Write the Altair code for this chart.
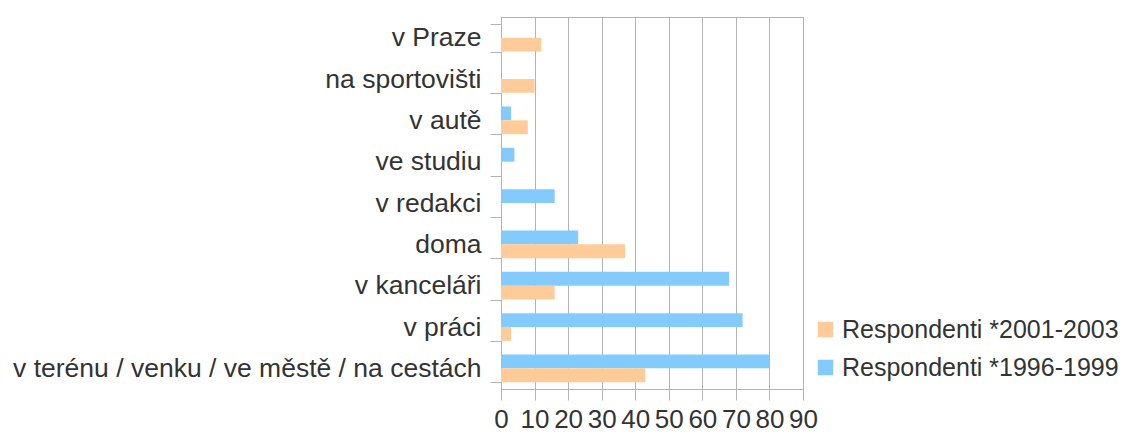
import altair as alt
import pandas as pd

categories = ["v Praze", "na sportovišti", "v autě", "ve studiu", "v redakci",
              "doma", "v kanceláři", "v práci",
              "v terénu / venku / ve městě / na cestách"]
series_old = "Respondenti *1996-1999"
series_new = "Respondenti *2001-2003"
values_old = [0, 0, 3, 4, 16, 23, 68, 72, 80]
values_new = [12, 10, 8, 0, 0, 37, 16, 3, 43]
x_ticks = [0, 10, 20, 30, 40, 50, 60, 70, 80, 90]

rows = []
for c, vo, vn in zip(categories, values_old, values_new):
    rows.append({"cat": c, "series": series_old, "value": vo})
    rows.append({"cat": c, "series": series_new, "value": vn})
df = pd.DataFrame(rows)

grid = "#b3b3b3"
txt = "#333333"
font = "Liberation Sans"

chart = alt.Chart(df).mark_bar().encode(
    y=alt.Y("cat:N", sort=categories,
            scale=alt.Scale(paddingInner=0.33, paddingOuter=0.165),
            axis=alt.Axis(title=None, tickBand="extent", grid=False,
                          labelFontSize=26.5, labelColor=txt, labelFont=font,
                          labelPadding=9, tickSize=11, tickColor=grid,
                          domainColor=grid, labelLimit=700)),
    yOffset=alt.YOffset("series:N", sort=[series_old, series_new]),
    x=alt.X("value:Q", scale=alt.Scale(domain=[0, 90], nice=False),
            axis=alt.Axis(title=None, values=x_ticks, grid=True, gridColor=grid,
                          labelFontSize=26, labelColor=txt, labelFont=font,
                          tickSize=11, tickColor=grid, domainColor=grid,
                          labelPadding=6, labelFlush=False)),
    color=alt.Color("series:N",
                    scale=alt.Scale(domain=[series_new, series_old],
                                    range=["#ffcc99", "#83caff"]),
                    legend=alt.Legend(title=None, orient="none", legendX=312,
                                      legendY=300, padding=0, symbolType="square",
                                      symbolSize=240, symbolStrokeWidth=0,
                                      labelFontSize=25, labelColor=txt,
                                      labelFont=font, rowPadding=12,
                                      labelOffset=4, labelLimit=600)),
).properties(
    width=302, height=372,
    autosize=alt.AutoSizeParams(type="none"),
    padding={"left": 493, "top": 9, "right": 316, "bottom": 43},
).configure_view(stroke=grid, strokeWidth=1)

chart.save("out.html", embed_options={"renderer": "svg", "actions": False})
